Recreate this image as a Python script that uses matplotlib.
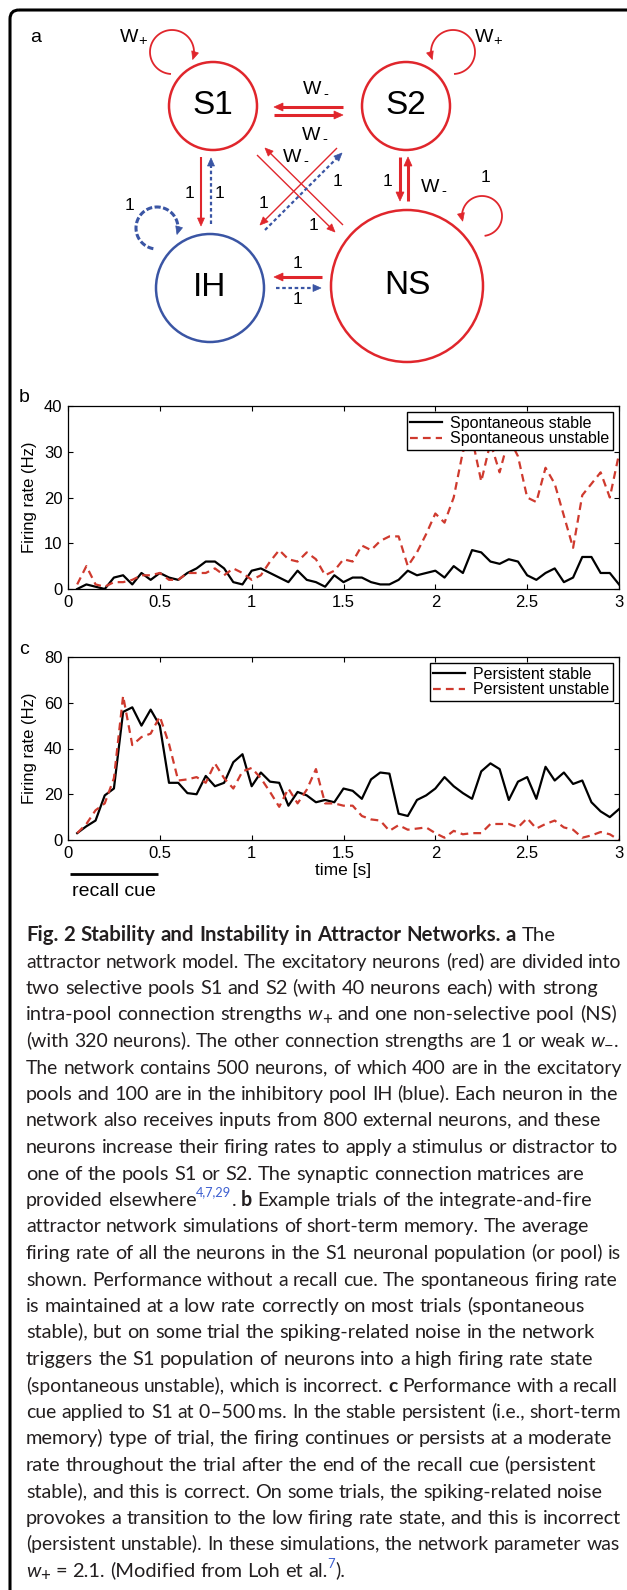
import numpy as np
import matplotlib.pyplot as plt
from matplotlib.patches import Circle, Polygon, FancyBboxPatch
from matplotlib.transforms import blended_transform_factory
from matplotlib.backends.backend_agg import get_hinting_flag

W, H = 627, 1590
RED = '#e0262c'
BLUE = '#3a55a4'
PLOT_RED = '#cf3a2e'
INK = '#231f20'
REF = '#3d5fd0'

# ---------------- data ----------------
t = np.round(np.arange(1, 61) * 0.05, 2)

b_stable = [0, 1, 0.5, 0, 2.5, 3, 1, 3.5, 2, 3.5,
            2.5, 2, 3.5, 4.5, 6, 6, 4.5, 1.5, 1, 4,
            4.5, 3.5, 2.5, 1.5, 4, 2, 1.5, 0.5, 3, 1.5,
            2.5, 2.5, 1.5, 1, 1, 2, 4, 3, 3.5, 4,
            2.5, 5, 3.5, 8.5, 8, 6, 5.5, 6.5, 6, 3,
            2, 3.5, 4.5, 1.5, 2.5, 7, 7, 3.5, 3.5, 1]
b_unstable = [1, 5, 1, 0.5, 1.5, 1.5, 2, 3, 3, 3.5,
              2, 2, 3.5, 3.5, 3.5, 4.5, 3, 4.5, 3.5, 2,
              3, 6, 8.5, 6.5, 6, 8, 6.5, 3, 4, 6.5,
              6, 9.5, 8.5, 10.5, 11.5, 11.5, 5, 8, 12, 16.5,
              14.5, 20, 30, 33, 23.5, 32, 25.5, 33, 29, 20,
              19, 26.5, 23, 16, 9, 20.5, 23, 25.5, 20, 29.5]
c_stable = [3, 6, 8.5, 19.5, 22.5, 56, 58, 50, 57, 50,
            25, 25, 20.5, 20, 28, 23.5, 25, 34, 37.5, 23.5,
            29.5, 25.5, 25, 15, 21, 19.5, 16.5, 17.5, 16.5, 22.5,
            21.5, 18, 26.5, 29.5, 29, 11.5, 10.5, 17.5, 19.5, 22.5,
            27.5, 23.5, 20.5, 18, 30, 33.5, 31, 17.5, 25.5, 27.5,
            18, 32, 26, 29.5, 24.5, 26, 16.5, 12.5, 10, 13.5]
c_unstable = [3, 7, 13, 16, 27, 63, 41.5, 45, 46.5, 54,
              42, 26, 26.5, 27.5, 25, 33.5, 27, 22.5, 30, 31.5,
              27, 21, 14.5, 22.5, 16, 22, 31, 16, 16, 15,
              15, 10.5, 9, 8.5, 4, 6.5, 4.5, 5, 5.5, 3,
              1, 4, 2.5, 3, 3, 7, 7, 7, 5.5, 9.5,
              5, 7, 8.5, 5.5, 4.5, 1, 2, 3.5, 2.5, 0]
cue = (0.0, 0.5)

xticks = [0, 0.5, 1, 1.5, 2, 2.5, 3]
xticklabels = ['0', '0.5', '1', '1.5', '2', '2.5', '3']

cap_lines = [
    [('Fig. 2 Stability and Instability in Attractor Networks. a', 'b'), (' The', 'r')],
    [('attractor network model. The excitatory neurons (red) are divided into', 'r')],
    [('two selective pools S1 and S2 (with 40 neurons each) with strong', 'r')],
    [('intra-pool connection strengths ', 'r'), ('w', 'i'), ('+', 'sub'),
     (' and one non-selective pool (NS)', 'r')],
    [('(with 320 neurons). The other connection strengths are 1 or weak ', 'r'),
     ('w', 'i'), ('\u2212', 'sub'), ('.', 'r')],
    [('The network contains 500 neurons, of which 400 are in the excitatory', 'r')],
    [('pools and 100 are in the inhibitory pool IH (blue). Each neuron in the', 'r')],
    [('network also receives inputs from 800 external neurons, and these', 'r')],
    [('neurons increase their firing rates to apply a stimulus or distractor to', 'r')],
    [('one of the pools S1 or S2. The synaptic connection matrices are', 'r')],
    [('provided elsewhere', 'r'), ('4,7,29', 'ref'), ('. ', 'r'), ('b', 'b'),
     (' Example trials of the integrate-and-fire', 'r')],
    [('attractor network simulations of short-term memory. The average', 'r')],
    [('firing rate of all the neurons in the S1 neuronal population (or pool) is', 'r')],
    [('shown. Performance without a recall cue. The spontaneous firing rate', 'r')],
    [('is maintained at a low rate correctly on most trials (spontaneous', 'r')],
    [('stable), but on some trial the spiking-related noise in the network', 'r')],
    [('triggers the S1 population of neurons into a high firing rate state', 'r')],
    [('(spontaneous unstable), which is incorrect. ', 'r'), ('c', 'b'),
     (' Performance with a recall', 'r')],
    [('cue applied to S1 at 0\u2013500\u2009ms. In the stable persistent (i.e., short-term', 'r')],
    [('memory) type of trial, the firing continues or persists at a moderate', 'r')],
    [('rate throughout the trial after the end of the recall cue (persistent', 'r')],
    [('stable), and this is correct. On some trials, the spiking-related noise', 'r')],
    [('provokes a transition to the low firing rate state, and this is incorrect', 'r')],
    [('(persistent unstable). In these simulations, the network parameter was', 'r')],
    [('w', 'i'), ('+', 'sub'), (' = 2.1. (Modified from Loh et al.', 'r'), ('7', 'ref'), (').', 'r')],
]
# right end (px) of each caption line in the original layout
cap_ends = [565, 618, 596, 615, 616, 618, 617, 599, 618, 580, 590, 588, 617,
            616, 583, 594, 590, 617, 618, 610, 597, 602, 618, 617, 344]

plt.rcParams['font.family'] = ['Liberation Sans', 'DejaVu Sans']

fig = plt.figure(figsize=(W / 100, H / 100), dpi=100)
bg = fig.add_axes([0, 0, 1, 1])
bg.set_xlim(0, W)
bg.set_ylim(H, 0)
bg.axis('off')

# outer frame
bg.add_patch(FancyBboxPatch((10, 10), 640, 1640, boxstyle='round,pad=0,rounding_size=9',
                            lw=2.2, ec='black', fc='none'))


# ---------------- panel a: network diagram ----------------
def head(tip, d, color, L=8, hw=3.5):
    d = np.asarray(d, float)
    d = d / np.hypot(*d)
    n = np.array([-d[1], d[0]])
    tip = np.asarray(tip, float)
    base = tip - d * L
    bg.add_patch(Polygon([tip, base + n * hw, base - n * hw], closed=True,
                         fc=color, ec=color, lw=0.5))


def arrow(p0, p1, color=RED, lw=1.5, ls='-', L=8, hw=3.5):
    p0 = np.asarray(p0, float)
    p1 = np.asarray(p1, float)
    d = (p1 - p0) / np.hypot(*(p1 - p0))
    end = p1 - d * L * 0.7
    bg.plot([p0[0], end[0]], [p0[1], end[1]], color=color, lw=lw, ls=ls,
            solid_capstyle='butt')
    head(p1, d, color, L, hw)


def loop(c, r, a0, a1, color=RED, lw=1.3, ls='-', L=8, hw=3.5):
    th = np.radians(np.linspace(a0, a1, 120))
    x = c[0] + r * np.cos(th)
    y = c[1] + r * np.sin(th)
    tip = np.array([x[-1], y[-1]])
    d = tip - np.array([x[-3], y[-3]])
    keep = np.hypot(x - tip[0], y - tip[1]) > L * 0.7
    keep[:60] = True
    bg.plot(x[keep], y[keep], color=color, lw=lw, ls=ls)
    head(tip, d, color, L, hw)


def wlabel(x, y, sub, size=14):
    bg.text(x, y, 'W', fontsize=size, ha='center', va='center')
    bg.text(x + 14, y + 4, sub, fontsize=size * 0.75, ha='center', va='center')


def one(x, y):
    bg.text(x, y, '1', fontsize=12.5, ha='center', va='center')


nodes = {'S1': (213, 106, 44, RED), 'S2': (406, 106, 44, RED),
         'IH': (210, 288, 54, BLUE), 'NS': (407, 286, 76, RED)}
for name, (cx, cy, r, col) in nodes.items():
    bg.add_patch(Circle((cx, cy), r, fc='none', ec=col, lw=1.8))
    bg.text(cx, cy, name, fontsize=24, ha='center', va='center')

bg.text(30, 38, 'a', fontsize=14, ha='left', va='center')

# self loops
loop((172, 52), 22, 95, 380, RED, lw=1.3)
loop((453, 52), 22, 85, -200, RED, lw=1.3)
loop((157, 228), 21, 100, 378, BLUE, lw=2.2, ls=(0, (2, 0.8)))
loop((482, 216), 20, 80, -195, RED, lw=1.3)

# S1 <-> S2
arrow((343, 107), (274, 107), RED, lw=2.2, L=9, hw=4)
arrow((274, 115), (343, 115), RED, lw=2.2, L=9, hw=4)
# S2 <-> NS
arrow((400, 157), (400, 201), RED, lw=2.2, L=9, hw=4)
arrow((408, 201), (408, 157), RED, lw=2.2, L=9, hw=4)
# NS <-> IH
arrow((322, 277), (274, 277), RED, lw=2.2, L=9, hw=4)
arrow((276, 288), (321, 288), BLUE, lw=1.6, ls=(0, (1.6, 1.2)), L=8, hw=3.5)
# S1 <-> IH
arrow((201, 157), (201, 226), RED, lw=1.5)
arrow((211, 224), (211, 158), BLUE, lw=1.6, ls=(0, (1.6, 1.2)), L=8, hw=3.5)
# diagonals
arrow((257, 155), (335, 232), RED, lw=1.0, L=8, hw=3.5)
arrow((343, 225), (265, 148), RED, lw=1.0, L=8, hw=3.5)
arrow((337, 148), (260, 225), RED, lw=1.0, L=8, hw=3.5)
arrow((265, 230), (342, 153), BLUE, lw=1.6, ls=(0, (1.6, 1.2)), L=8, hw=3.5)

# labels
wlabel(129, 37, '+')
wlabel(484, 37, '+')
wlabel(312, 90, '-')
wlabel(311, 135, '-')
wlabel(292, 157, '-')
wlabel(430, 187, '-')
one(189, 193)
one(219, 194)
one(129, 206)
one(263, 203)
one(337, 182)
one(313, 225)
one(387, 182)
one(486, 178)
one(298, 263)
one(298, 300)


# ---------------- panels b and c ----------------
def panel(l, r, top, bot):
    return fig.add_axes([l / W, 1 - bot / H, (r - l) / W, (bot - top) / H])


axb = panel(68, 619, 406, 589)
axc = panel(68, 619, 657, 840)

axb.plot(t, b_stable, color='black', lw=1.6, label='Spontaneous stable')
axb.plot(t, b_unstable, color=PLOT_RED, lw=1.6, dashes=(3.5, 2.3), label='Spontaneous unstable')
axb.set_ylim(0, 40)
axb.set_yticks([0, 10, 20, 30, 40])

axc.plot(t, c_stable, color='black', lw=1.6, label='Persistent stable')
axc.plot(t, c_unstable, color=PLOT_RED, lw=1.6, dashes=(3.5, 2.3), label='Persistent unstable')
axc.set_ylim(0, 80)
axc.set_yticks([0, 20, 40, 60, 80])
axc.set_xlabel('time [s]', fontsize=12.5)
axc.xaxis.set_label_coords(0.5, -0.125)

for ax in (axb, axc):
    ax.set_xlim(0, 3)
    ax.set_xticks(xticks)
    ax.set_xticklabels(xticklabels)
    ax.tick_params(direction='in', top=True, right=True, length=3.6, width=0.8,
                   labelsize=12, pad=4)
    for s in ax.spines.values():
        s.set_linewidth(0.9)
    ax.set_ylabel('Firing rate (Hz)', fontsize=12)
    ax.yaxis.set_label_coords(-0.056, 0.5)
    leg = ax.legend(loc='upper right', fontsize=11.5, frameon=True, fancybox=False,
                    edgecolor='black', framealpha=1, borderaxespad=0.4,
                    handlelength=2.0, handletextpad=0.5, labelspacing=0.05,
                    borderpad=0.2)
    leg.get_frame().set_linewidth(1.0)

# recall cue bar
tr = blended_transform_factory(axc.transData, axc.transAxes)
axc.plot([cue[0] + 0.01, cue[1] - 0.01], [-0.186, -0.186], color='black', lw=2,
         transform=tr, clip_on=False, solid_capstyle='butt')
axc.text(sum(cue) / 2, -0.284, 'recall cue', fontsize=14, ha='center', va='center',
         transform=tr)

bg.text(24, 397, 'b', fontsize=14, ha='center', va='center')
bg.text(24, 650, 'c', fontsize=14, ha='center', va='center')

# ---------------- caption (one text per word) ----------------
renderer = fig.canvas.get_renderer()
CAP_FONT = 'Lato'


def measure(s, size, **kw):
    tt = bg.text(0, 0, s, fontsize=size, family=CAP_FONT, **kw)
    w = tt.get_window_extent(renderer=renderer).width
    tt.remove()
    return w


def snap_baseline(tt, word, row):
    # put the word's baseline exactly on pixel row `row`, so that words share one line
    try:
        font = renderer._prepare_font(tt.get_fontproperties())
        font.set_text(word, 0, flags=get_hinting_flag())
        d = font.get_descent()
        _, h = font.get_width_height()
        ymax = h - d
        Y = row - (ymax // 64) + (h // 64)
        tt.set_y(Y - d / 64.0)
    except Exception:
        tt.set_y(row)


probe = cap_lines[1][0][0]
cap_size = 10 * 588 / measure(probe, 10)

cap_x = 26
cap_y0 = 941
cap_dy = 26.5


def run_style(kind, size):
    kw = dict(fontsize=size, family=CAP_FONT, color=INK, va='baseline', ha='left')
    dy = 0
    if kind == 'b':
        kw['fontweight'] = 'bold'
    elif kind == 'i':
        kw['fontstyle'] = 'italic'
    elif kind == 'sub':
        kw['fontsize'] = size * 0.85
        dy = size * 0.28
    elif kind == 'ref':
        kw['fontsize'] = size * 0.65
        kw['color'] = REF
        dy = -size * 0.62
    return kw, dy


def tokens(runs):
    out = []
    for s, kind in runs:
        parts = s.split(' ')
        for j, p in enumerate(parts):
            if j > 0:
                out.append(None)
            if p:
                out.append((p, kind))
    return out


def draw_line(y, runs, size, draw=True):
    sp = measure('a a', size) - measure('aa', size)
    x = cap_x
    for tok in tokens(runs):
        if tok is None:
            x += sp
            continue
        word, kind = tok
        kw, dy = run_style(kind, size)
        tt = bg.text(x, y + dy, word, **kw)
        x += tt.get_window_extent(renderer=renderer).width
        if draw:
            snap_baseline(tt, word, int(round(y + dy)))
        else:
            tt.remove()
    return x - cap_x


for i, runs in enumerate(cap_lines):
    y = cap_y0 + i * cap_dy
    nat = draw_line(y, runs, cap_size, draw=False)
    scale = np.clip((cap_ends[i] - cap_x) / nat, 0.97, 1.07)
    draw_line(y, runs, cap_size * scale)

fig.savefig('out.png', dpi=100)
